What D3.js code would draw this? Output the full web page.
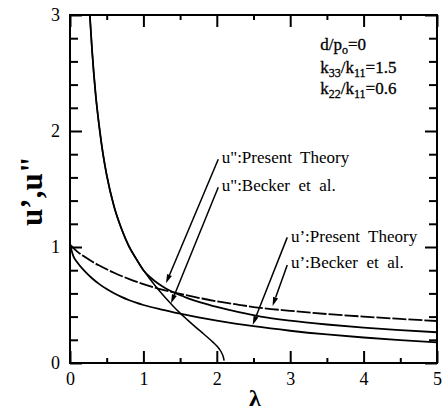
<!DOCTYPE html>
<html>
<head>
<meta charset="utf-8">
<script src="https://cdn.jsdelivr.net/npm/d3@7"></script>
<style>
  html, body { margin: 0; padding: 0; background: #fff; }
  svg { display: block; }
</style>
</head>
<body>
<svg id="chart" width="442" height="413"></svg>
<script>
const SERIF = "'Liberation Serif', 'Times New Roman', Times, 'DejaVu Serif', serif";

// tick values
const xMajorTicks = [0, 1, 2, 3, 4, 5];
const xMinorTicks = [0.5, 1.5, 2.5, 3.5, 4.5];
const yMajorTicks = [0, 1, 2, 3];
const yMinorTicks = [0.2, 0.4, 0.6, 0.8, 1.2, 1.4, 1.6, 1.8, 2.2, 2.4, 2.6, 2.8];

// u'' present theory
const uppPresentX = [0.27, 0.3, 0.35, 0.4, 0.45, 0.5, 0.6, 0.7, 0.8, 0.9, 1.0, 1.1, 1.2, 1.3, 1.4, 1.6, 1.8, 2.0, 2.3, 2.6, 3.0, 3.5, 4.0, 4.5, 5.0];
const uppPresentY = [3.0, 2.7, 2.31, 2.03, 1.8, 1.62, 1.35, 1.16, 1.01, 0.9, 0.8, 0.735, 0.685, 0.645, 0.612, 0.56, 0.518, 0.483, 0.438, 0.40, 0.365, 0.332, 0.305, 0.284, 0.265];

// u'' Becker et al.
const uppBeckerX = [0.27, 0.3, 0.35, 0.4, 0.45, 0.5, 0.6, 0.7, 0.8, 0.9, 1.0, 1.1, 1.2, 1.3, 1.4, 1.5, 1.6, 1.7, 1.8, 1.9, 1.95, 2.0, 2.04, 2.07, 2.09, 2.1];
const uppBeckerY = [3.0, 2.7, 2.31, 2.03, 1.8, 1.62, 1.35, 1.16, 1.01, 0.9, 0.8, 0.715, 0.635, 0.562, 0.494, 0.43, 0.372, 0.316, 0.262, 0.207, 0.178, 0.147, 0.115, 0.082, 0.05, 0.02];

// u' present theory
const upPresentX = [0, 0.05, 0.1, 0.2, 0.3, 0.4, 0.5, 0.6, 0.7, 0.8, 0.9, 1.0, 1.25, 1.5, 1.75, 2.0, 2.25, 2.5, 3.0, 3.5, 4.0, 4.5, 5.0];
const upPresentY = [1.02, 0.915, 0.867, 0.792, 0.731, 0.68, 0.637, 0.601, 0.57, 0.543, 0.52, 0.50, 0.46, 0.425, 0.393, 0.365, 0.34, 0.317, 0.278, 0.246, 0.22, 0.198, 0.178];

// u' Becker et al. (dashed)
const upBeckerX = [0, 0.1, 0.2, 0.3, 0.4, 0.5, 0.6, 0.8, 1.0, 1.2, 1.4, 1.6, 1.8, 2.0, 2.3, 2.6, 3.0, 3.5, 4.0, 4.5, 5.0];
const upBeckerY = [1.02, 0.96, 0.915, 0.875, 0.84, 0.808, 0.778, 0.725, 0.68, 0.642, 0.61, 0.582, 0.556, 0.532, 0.502, 0.475, 0.45, 0.422, 0.40, 0.38, 0.362];

// labels with arrows: text anchor, arrow tail, arrow head (data units)
const labelTexts = ["u\":Present  Theory", "u\":Becker  et  al.", "u\u2019:Present  Theory", "u\u2019:Becker  et  al."];
const labelX = [2.067, 2.067, 3.01, 3.01];
const labelY = [1.724, 1.485, 1.046, 0.819];
const arrowTailX = [2.02, 2.02, 2.96, 2.96];
const arrowTailY = [1.756, 1.515, 1.083, 0.845];
const arrowHeadX = [1.308, 1.376, 2.489, 2.76];
const arrowHeadY = [0.687, 0.515, 0.328, 0.491];

// parameter block
const paramX = 3.41;
const paramY = [2.70, 2.50, 2.32];

(function () {
  const svg = d3.select("#chart").attr("font-family", SERIF);
  const margin = { left: 70, top: 15, right: 5, bottom: 50 };
  const innerW = 367;
  const innerH = 348;

  const x = d3.scaleLinear().domain([0, 5]).range([0, innerW]);
  const y = d3.scaleLinear().domain([0, 3]).range([innerH, 0]);

  const g = svg.append("g").attr("transform", `translate(${margin.left},${margin.top})`);

  // minor ticks
  g.append("g").attr("transform", `translate(0,${innerH})`)
    .call(d3.axisBottom(x).tickValues(xMinorTicks).tickSize(-5).tickFormat(""));
  g.append("g")
    .call(d3.axisTop(x).tickValues(xMinorTicks).tickSize(-5).tickFormat(""));
  g.append("g")
    .call(d3.axisLeft(y).tickValues(yMinorTicks).tickSize(-8).tickFormat(""));
  g.append("g").attr("transform", `translate(${innerW},0)`)
    .call(d3.axisRight(y).tickValues(yMinorTicks).tickSize(-8).tickFormat(""));

  // major ticks
  g.append("g").attr("class", "xlab").attr("transform", `translate(0,${innerH})`)
    .call(d3.axisBottom(x).tickValues(xMajorTicks).tickSize(-12).tickPadding(9).tickFormat(d3.format("d")));
  g.append("g")
    .call(d3.axisTop(x).tickValues(xMajorTicks).tickSize(-12).tickFormat(""));
  g.append("g").attr("class", "ylab")
    .call(d3.axisLeft(y).tickValues(yMajorTicks).tickSize(-12).tickPadding(10).tickFormat(d3.format("d")));
  g.append("g").attr("transform", `translate(${innerW},0)`)
    .call(d3.axisRight(y).tickValues(yMajorTicks).tickSize(-12).tickFormat(""));

  g.selectAll(".domain").remove();
  g.selectAll("g").attr("font-family", SERIF);
  g.selectAll(".tick line").attr("stroke", "#000").attr("stroke-width", 2);
  g.selectAll(".xlab text, .ylab text")
    .attr("font-family", SERIF)
    .attr("font-size", 18)
    .attr("fill", "#000");

  // frame
  g.append("rect")
    .attr("x", 0).attr("y", 0).attr("width", innerW).attr("height", innerH)
    .attr("fill", "none").attr("stroke", "#000").attr("stroke-width", 2);

  g.append("clipPath").attr("id", "plot-clip")
    .append("rect").attr("x", 0).attr("y", 0).attr("width", innerW).attr("height", innerH);

  const line = d3.line()
    .x((d) => x(d[0]))
    .y((d) => y(d[1]))
    .curve(d3.curveMonotoneX);

  const zip = (xs, ys) => xs.map((v, i) => [v, ys[i]]);

  const curves = g.append("g").attr("clip-path", "url(#plot-clip)")
    .attr("fill", "none").attr("stroke", "#000");

  curves.append("path").attr("d", line(zip(uppPresentX, uppPresentY))).attr("stroke-width", 1.8);
  curves.append("path").attr("d", line(zip(uppBeckerX, uppBeckerY))).attr("stroke-width", 1.5);
  curves.append("path").attr("d", line(zip(upPresentX, upPresentY))).attr("stroke-width", 1.8);
  curves.append("path").attr("d", line(zip(upBeckerX, upBeckerY)))
    .attr("stroke-width", 1.8).attr("stroke-dasharray", "14,2");

  // arrows
  const arrows = g.append("g");
  labelTexts.forEach((t, i) => {
    const x1 = x(arrowTailX[i]), y1 = y(arrowTailY[i]);
    const x2 = x(arrowHeadX[i]), y2 = y(arrowHeadY[i]);
    const ang = Math.atan2(y2 - y1, x2 - x1);
    const len = 9, half = 2.6;
    const bx = x2 - len * Math.cos(ang), by = y2 - len * Math.sin(ang);
    const px = -Math.sin(ang) * half, py = Math.cos(ang) * half;
    arrows.append("line")
      .attr("x1", x1).attr("y1", y1).attr("x2", bx).attr("y2", by)
      .attr("stroke", "#000").attr("stroke-width", 1.5);
    arrows.append("path")
      .attr("d", `M${x2},${y2}L${bx + px},${by + py}L${bx - px},${by - py}Z`)
      .attr("fill", "#000");
    g.append("text")
      .attr("x", x(labelX[i])).attr("y", y(labelY[i]))
      .attr("font-family", SERIF)
      .attr("font-size", 17)
      .style("white-space", "pre")
      .text(t);
  });

  // parameter block
  const params = [
    [["d/p", 0], ["o", 1], ["=0", -1]],
    [["k", 0], ["33", 1], ["/k", -1], ["11", 1], ["=1.5", -1]],
    [["k", 0], ["22", 1], ["/k", -1], ["11", 1], ["=0.6", -1]],
  ];
  params.forEach((parts, i) => {
    const t = g.append("text")
      .attr("x", x(paramX)).attr("y", y(paramY[i]))
      .attr("font-family", SERIF)
      .attr("font-size", 17)
      .attr("stroke", "#000")
      .attr("stroke-width", 0.3);
    parts.forEach(([s, shift]) => {
      const ts = t.append("tspan").text(s);
      if (shift === 1) ts.attr("font-size", 12).attr("dy", 4);
      if (shift === -1) ts.attr("dy", -4);
    });
  });

  // axis titles
  svg.append("text")
    .attr("x", margin.left + innerW / 2 + 1.5)
    .attr("y", 406)
    .attr("text-anchor", "middle")
    .attr("font-family", SERIF)
    .attr("font-size", 24)
    .attr("font-weight", "bold")
    .text("\u03bb");

  svg.append("text")
    .attr("transform", "translate(42,191) rotate(-90)")
    .attr("text-anchor", "middle")
    .attr("font-family", SERIF)
    .attr("font-size", 31)
    .attr("font-weight", "bold")
    .text("u\u2019,u\"");
})();
</script>
</body>
</html>
